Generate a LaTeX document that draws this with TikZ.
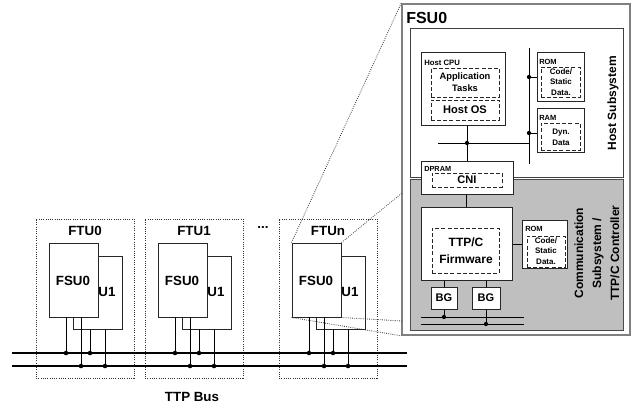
\documentclass[tikz,border=0pt]{standalone}
\usepackage{fontspec}
\setmainfont{Liberation Sans}
\usetikzlibrary{fit}
\newcommand\myfs[2]{\fontsize{#1}{#2}\selectfont\bfseries}
\begin{document}
\begin{tikzpicture}[x=0.75pt,y=-0.75pt,
  box/.style={draw=black!85, fill=white, line width=0.75pt, inner sep=0pt},
  dbox/.style={draw=black!85, dash pattern=on 3pt off 1.6pt, line width=0.75pt, inner sep=0pt},
  ftubox/.style={draw=black!80, densely dotted, line width=0.7pt, inner sep=0pt},
  zl/.style={draw=black!80, densely dotted, line width=0.6pt},
  txt/.style={inner sep=0pt, align=center},
  ln/.style={draw=black, line width=0.75pt},
  busl/.style={draw=black, line width=1pt},
  dotc/.style={fill=black}
]
\useasboundingbox (0,0) rectangle (632,404);

% ---------------- left: TTP bus and FTUs ----------------
\coordinate (bu1) at (12,353);
\coordinate (bu2) at (407,353);
\coordinate (bl1) at (12,366);
\coordinate (bl2) at (407,366);

\foreach \o/\n/\lab in {0/0/FTU0, 109/1/FTU1, 243/n/FTUn} {
  \node[ftubox, fit={(36+\o,219)(134+\o,378)}] (ftu\n) {};
  \node[txt, font=\myfs{10}{12}] (ftul\n) at (85+\o,231) {\lab};
  \node[box, fit={(73+\o,256)(122+\o,329)}] (u\n) {};
  \node[box, fit={(49+\o,243)(98+\o,317)}] (fsu\n) {};
  \node[txt, font=\myfs{10}{12}] (fsul\n) at (73+\o,281) {FSU0};
  \node[txt, font=\myfs{10}{12}] (ul\n) at (107+\o,292) {U1};
  \coordinate (a\n) at (66+\o,317);
  \coordinate (b\n) at (81+\o,317);
  \coordinate (c\n) at (90+\o,329);
  \coordinate (d\n) at (105+\o,329);
  \draw[ln] (a\n) -- (a\n |- bu1);
  \draw[ln] (b\n) -- (b\n |- bl1);
  \draw[ln] (c\n) -- (c\n |- bu1);
  \draw[ln] (d\n) -- (d\n |- bl1);
  \fill[dotc] (a\n |- bu1) circle[radius=1.7pt];
  \fill[dotc] (b\n |- bl1) circle[radius=1.7pt];
  \fill[dotc] (c\n |- bu1) circle[radius=1.7pt];
  \fill[dotc] (d\n |- bl1) circle[radius=1.7pt];
}
\draw[busl] (bu1) -- (bu2);
\draw[busl] (bl1) -- (bl2);
\node[txt, font=\myfs{10}{12}] (dots) at (263,228) {...};
\node[txt, font=\myfs{10}{12}] (ttpbus) at (192,397) {TTP Bus};

% ---------------- zoom lines ----------------
\coordinate (z2) at (402,193);
\coordinate (z3) at (402,321);
\node[box, draw=black!50, line width=1.2pt, fit={(402,4)(630,335)}] (outer) {};
\draw[zl] (fsun.north west) -- (outer.north west);
\draw[zl] (fsun.north east) -- (z2);
\draw[zl] (fsun.south east) -- (z3);
\draw[zl] (fsun.south west) -- (outer.south west);

% ---------------- right: FSU0 detail ----------------
\node[txt, font=\myfs{12}{14}, anchor=west] (fsutitle) at (406,18) {FSU0};
\node[box, draw=black!75, fit={(410,28)(623,177)}] (host) {};
\node[box, draw=black!70, fill=black!25, fit={(410,179)(623,330)}] (comm) {};

\node[txt, font=\myfs{9}{11}, rotate=90] (hostl) at (613,103) {Host Subsystem};
\node[txt, font=\myfs{9}{13.5}, rotate=90] (comml) at (597,253) {Communication\\Subsystem /\\TTP/C Controller};

% host CPU
\node[box, fit={(421,52)(505,125)}] (cpu) {};
\node[txt, font=\myfs{5.8}{7}, anchor=west] (cpul) at (424,63) {Host CPU};
\node[dbox, fit={(431,68)(499,97)}] (app) {};
\node[txt, font=\myfs{7}{9.5}] (appl) at (465,82) {Application\\Tasks};
\node[dbox, fit={(431,100)(499,120)}] (os) {};
\node[txt, font=\myfs{8.3}{10}] (osl) at (465,110) {Host OS};

% host ROM / RAM
\node[box, fit={(537,52)(584,101)}] (rom1) {};
\node[dbox, fit={(541,67)(580,97)}] (rom1d) {};
\node[txt, font=\myfs{5.6}{7}, anchor=west] (rom1l) at (539,62) {ROM};
\node[txt, font=\myfs{6}{8}] (rom1t) at (561,82) {Code/\\Static\\Data.};
\node[box, fit={(537,108)(584,152)}] (ram) {};
\node[dbox, fit={(541,123)(580,150)}] (ramd) {};
\node[txt, font=\myfs{5.6}{7}, anchor=west] (raml) at (539,118) {RAM};
\node[txt, font=\myfs{6}{8}] (ramt) at (561,137) {Dyn.\\Data};

% host bus
\coordinate (hbT) at (529,48);
\coordinate (hbB) at (529,164);
\coordinate (hL) at (438,143);
\draw[ln] (hbT) -- (hbB);
\draw[ln] (hL) -- (hL -| hbT);
\draw[ln] (rom1.west |- 0,77) -- (529,77);
\draw[ln] (ram.west |- 0,133) -- (529,133);
\fill[dotc] (529,77) circle[radius=1.6pt];
\fill[dotc] (529,133) circle[radius=1.6pt];

% DPRAM / CNI
\node[box, fit={(421,161)(513,194)}] (dpram) {};
\node[txt, font=\myfs{5.5}{7}, anchor=west] (dpraml) at (424,169) {DPRAM};
\node[dbox, fit={(432,173)(502,187)}] (cni) {};
\node[txt, font=\myfs{8.3}{10}] (cnil) at (467,180) {CNI};
\draw[ln] (dpram.north) -- (dpram.north |- cpu.south);
\fill[dotc] (dpram.north |- hL) circle[radius=1.6pt];

% controller
\node[box, fit={(421,207)(512,280)}] (ctrl) {};
\node[dbox, fit={(432,228)(499,273)}] (fw) {};
\node[txt, font=\myfs{9}{13}] (fwl) at (466,251) {TTP/C\\Firmware};
\draw[ln] (ctrl.north) -- (ctrl.north |- dpram.south);

\node[box, fit={(522,220)(567,268)}] (rom2) {};
\node[dbox, fit={(527,236)(565,267)}] (rom2d) {};
\node[txt, font=\myfs{5.6}{7}, anchor=west] (rom2l) at (525,229) {ROM};
\node[txt, font=\myfs{6}{8}] (rom2t) at (546,251) {Code/\\Static\\Data.};
\draw[ln] (rom2.west) -- (rom2.west -| ctrl.east);

% BGs and local bus
\node[box, fit={(431,287)(457,309)}] (bg1) {};
\node[box, fit={(472,287)(500,309)}] (bg2) {};
\node[txt, font=\myfs{8.3}{10}] (bg1l) at (bg1) {BG};
\node[txt, font=\myfs{8.3}{10}] (bg2l) at (bg2) {BG};
\draw[ln] (bg1.north) -- (bg1.north |- ctrl.south);
\draw[ln] (bg2.north) -- (bg2.north |- ctrl.south);
\coordinate (cu1) at (421,317);
\coordinate (cu2) at (524,317);
\coordinate (cl1) at (421,324);
\coordinate (cl2) at (524,324);
\draw[ln] (cu1) -- (cu2);
\draw[ln] (cl1) -- (cl2);
\draw[ln] (bg1.south) -- (bg1.south |- cu1);
\draw[ln] (bg2.south) -- (bg2.south |- cl1);
\fill[dotc] (bg1.south |- cu1) circle[radius=1.6pt];
\fill[dotc] (bg2.south |- cl1) circle[radius=1.6pt];
\end{tikzpicture}
\end{document}
